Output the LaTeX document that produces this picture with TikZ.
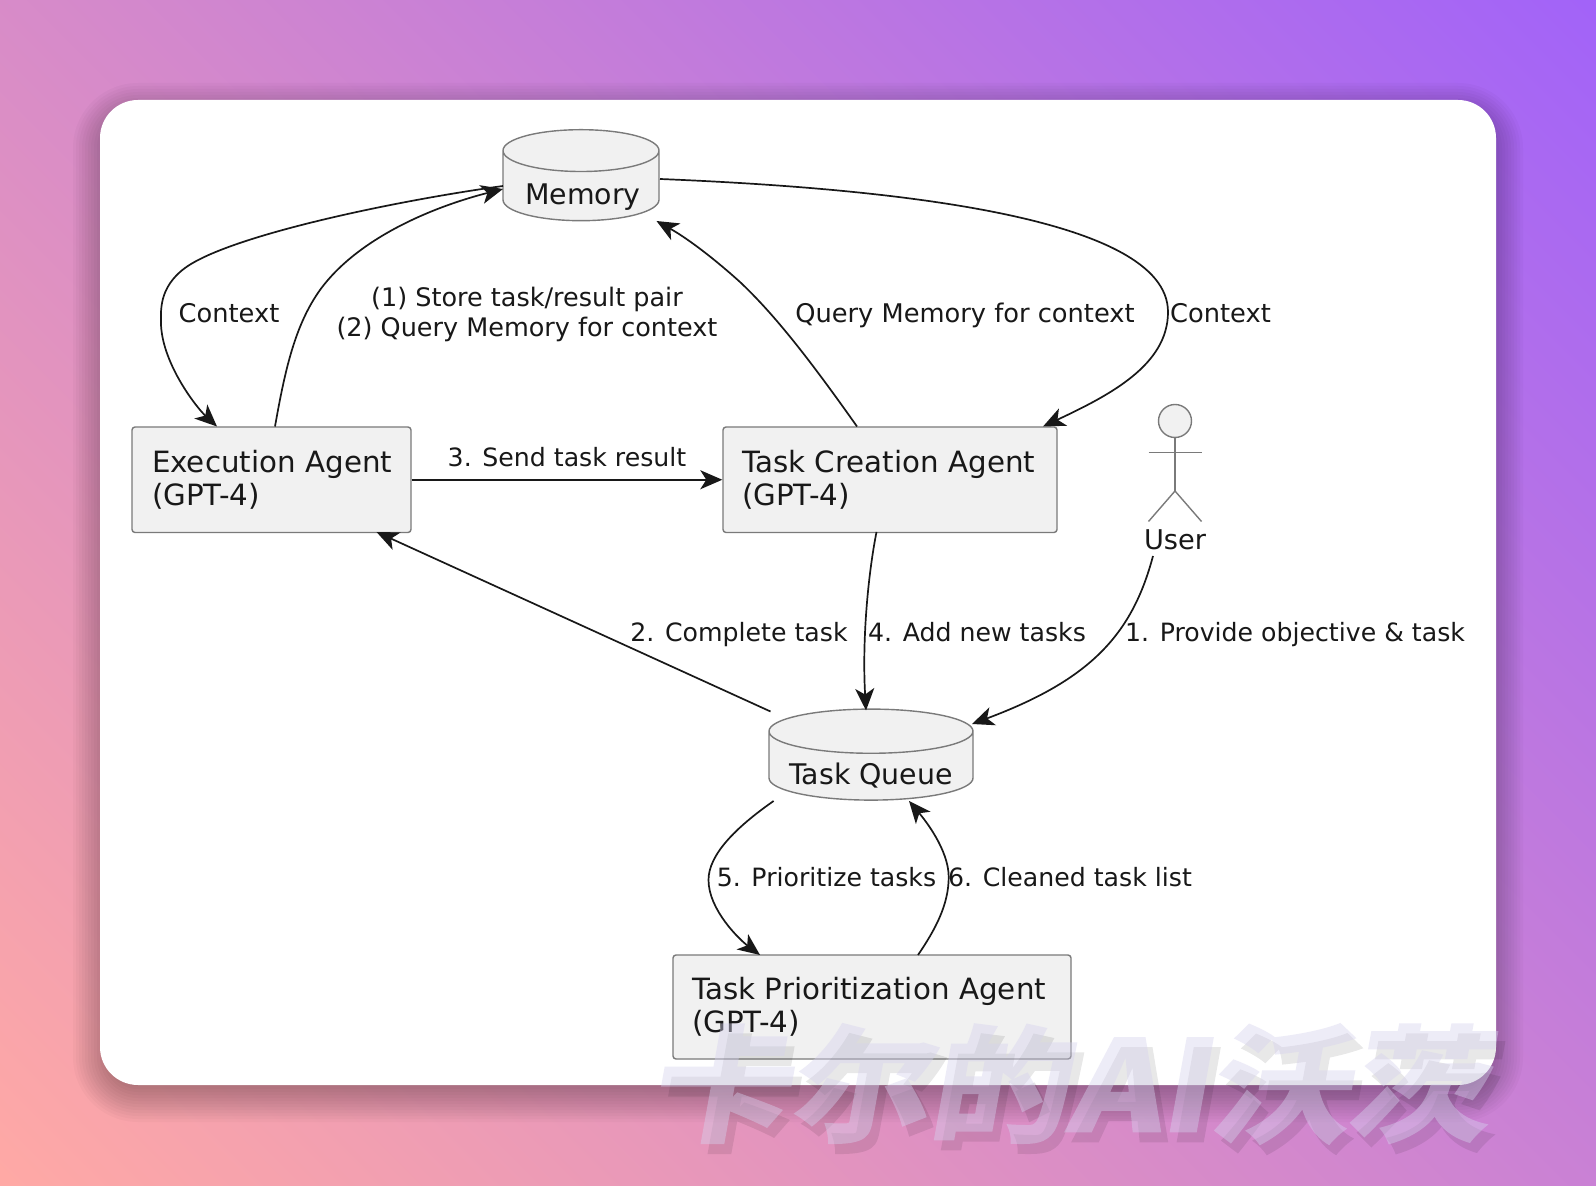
\documentclass[tikz,border=0pt]{standalone}
\usepackage{fontspec}
\setmainfont{DejaVu Sans}
\newfontfamily\cjk[BoldFeatures={FakeBold=1.5}]{Noto Sans CJK SC}
\usetikzlibrary{arrows.meta,shapes.geometric,calc}
\definecolor{bgA}{HTML}{FFA9A5}
\definecolor{bgB}{HTML}{A263F8}
\definecolor{ink}{HTML}{181818}
\definecolor{edgegray}{HTML}{7A7A7A}
\definecolor{fillgray}{HTML}{F1F1F1}
\definecolor{wm}{HTML}{D6D2EE}
\pgfdeclareverticalshading{bggrad}{100bp}{color(0bp)=(bgA); color(14.6bp)=(bgA); color(85.4bp)=(bgB); color(100bp)=(bgB)}
\newcommand{\dbtext}[1]{\smash{\raisebox{-9.3pt}{#1}}}
\tikzset{
  agentbox/.style={draw=edgegray,fill=fillgray,line width=.7pt,rounded corners=1.5pt,
    minimum height=52.75pt,inner sep=0pt,align=left,font=\fontsize{14.65}{16.5}\selectfont,text=ink},
  dbnode/.style={cylinder,shape border rotate=90,draw=edgegray,fill=fillgray,line width=.7pt,
    inner sep=0pt,font=\fontsize{14.2}{16}\selectfont,text=ink},
  flow/.style={draw=ink,line width=.85pt,-{Stealth[length=11pt,width=9.5pt,inset=3pt]}},
  lbl/.style={font=\fontsize{12.6}{15}\selectfont,text=ink,inner sep=0pt,align=center,text height=9.5pt,text depth=2.5pt},
  lblwide/.style={lbl,font=\fontsize{12.85}{15}\selectfont},
  lbltwo/.style={font=\fontsize{12.75}{15}\selectfont,text=ink,inner sep=0pt,align=center},
  stick/.style={draw=edgegray,line width=.7pt},
  wmark/.style={font=\cjk\bfseries\fontsize{64}{64}\selectfont,inner sep=0pt,xslant=.18,xscale=1.09,yscale=.98}
}
\begin{document}
\begin{tikzpicture}[x=.5pt,y=-.5pt]
\useasboundingbox (0,0) rectangle (1596,1186);
\shade[shading=bggrad,shading angle=-45] (0,0) rectangle (1596,1186);
% card shadow
\foreach \e in {-18,-15,...,27}{
  \fill[black,opacity=.024,rounded corners={(38+\e)*.5pt}] ({100-\e},{100+10-\e}) rectangle ({1496+\e},{1085+10+\e});
}
\fill[white,rounded corners=19pt] (100,100) rectangle (1496,1085);
% nodes
\node[agentbox,minimum width=139.5pt,text width=119.5pt] (exec) at (271.5,479.75) {\mbox{Execution Agent}\\(GPT-4)};
\node[agentbox,minimum width=167pt,text width=148pt] (tc) at (890,479.75) {\mbox{Task Creation Agent}\\(GPT-4)};
\node[agentbox,minimum width=199pt,text width=180pt,minimum height=52pt] (tp) at (872,1007) {\mbox{Task Prioritization Agent}\\(GPT-4)};
\node[dbnode,aspect=.35,minimum width=78pt,minimum height=45.5pt] (mem) at (581,186) {\dbtext{\hspace*{2pt}Memory}};
\node[dbnode,aspect=.27,minimum width=102pt,minimum height=45.5pt] (tq) at (871,766) {\dbtext{Task Queue}};
% actor
\node[circle,draw=edgegray,fill=fillgray,line width=.7pt,minimum size=16.5pt,inner sep=0pt] (head) at (1175,421) {};
\coordinate (hip) at (1175,491);
\draw[stick] (head.south) -- (hip);
\coordinate (armL) at (1148.5,452.5);
\coordinate (armR) at (1201.5,452.5);
\coordinate (legL) at (1148.5,521.5);
\coordinate (legR) at (1201.5,521.5);
\draw[stick] (armL) -- (armR);
\draw[stick] (legL) -- (hip) -- (legR);
\node[font=\fontsize{13.6}{16}\selectfont,text=ink,inner sep=0pt] (user) at (1175,540) {User};
% connectors
\draw[flow] ([shift={(-78,0)}]mem.center) .. controls (400,200) and (230,235) .. (185,268)
  .. controls (158,288) and (161,312) .. (161,325)
  .. controls (163,365) and (197,408) .. ([shift={(-54.5,-53.25)}]exec.center);
\draw[flow] ([shift={(3.5,-53.25)}]exec.center) .. controls (285,370) and (295,325) .. (320,290)
  .. controls (360,235) and (440,205) .. ([shift={(-78,3)}]mem.center);
\draw[flow] ([shift={(-33,-53.25)}]tc.center) .. controls (810,360) and (775,315) .. (740,282)
  .. controls (710,255) and (685,237) .. ([shift={(75.5,35)}]mem.center);
\draw[flow] ([shift={(79,-7)}]mem.center) .. controls (880,188) and (1168,215) .. (1168,312)
  .. controls (1168,365) and (1110,395) .. ([shift={(153,-53.25)}]tc.center);
\draw[flow] (exec.east) -- (tc.west);
\draw[flow] ([shift={(-100.5,-54.5)}]tq.center) -- ([shift={(105,52.25)}]exec.center);
\draw[flow] ([shift={(-13.5,52.25)}]tc.center) .. controls (868,575) and (862,640) .. ([shift={(-5,-55.5)}]tq.center);
\draw[flow] ([shift={(-22,16)}]user.center) .. controls (1132,635) and (1090,680) .. ([shift={(101,-42)}]tq.center);
\draw[flow] ([shift={(-97.4,35)}]tq.center) .. controls (735,828) and (708.5,855) .. (708.5,880)
  .. controls (708.5,910) and (740,940) .. ([shift={(-112,-52)}]tp.center);
\draw[flow] ([shift={(46,-52)}]tp.center) .. controls (935,930) and (948.7,905) .. (948.7,877)
  .. controls (948.7,850) and (925,820) .. ([shift={(38,35)}]tq.center);
% labels
\node[lblwide] (l1) at (229,315.5) {Context};
\node[lbltwo] (l2) at (527,314) {(1) Store task/result pair\\(2) Query Memory for context};
\node[lblwide] (l3) at (965,315.5) {Query Memory for context};
\node[lblwide] (l4) at (1220.5,315.5) {Context};
\node[lbl] (l5) at (567,460) {3. Send task result};
\node[lbl] (l6) at (739,635) {2. Complete task};
\node[lbl] (l7) at (977,635) {4. Add new tasks};
\node[lbl] (l8) at (1295,635) {1. Provide objective \& task};
\node[lbl] (l9) at (826.5,879) {5. Prioritize tasks};
\node[lbl] (l10) at (1070,879) {6. Cleaned task list};
% watermark
\begin{scope}[transparency group,opacity=.09]
\node[wmark,text=black] (wms) at (1083,1094) {卡尔的AI沃茨};
\end{scope}
\begin{scope}[transparency group,opacity=.42]
\node[wmark,text=wm] (wmt) at (1076,1084) {卡尔的AI沃茨};
\end{scope}
\end{tikzpicture}
\end{document}
